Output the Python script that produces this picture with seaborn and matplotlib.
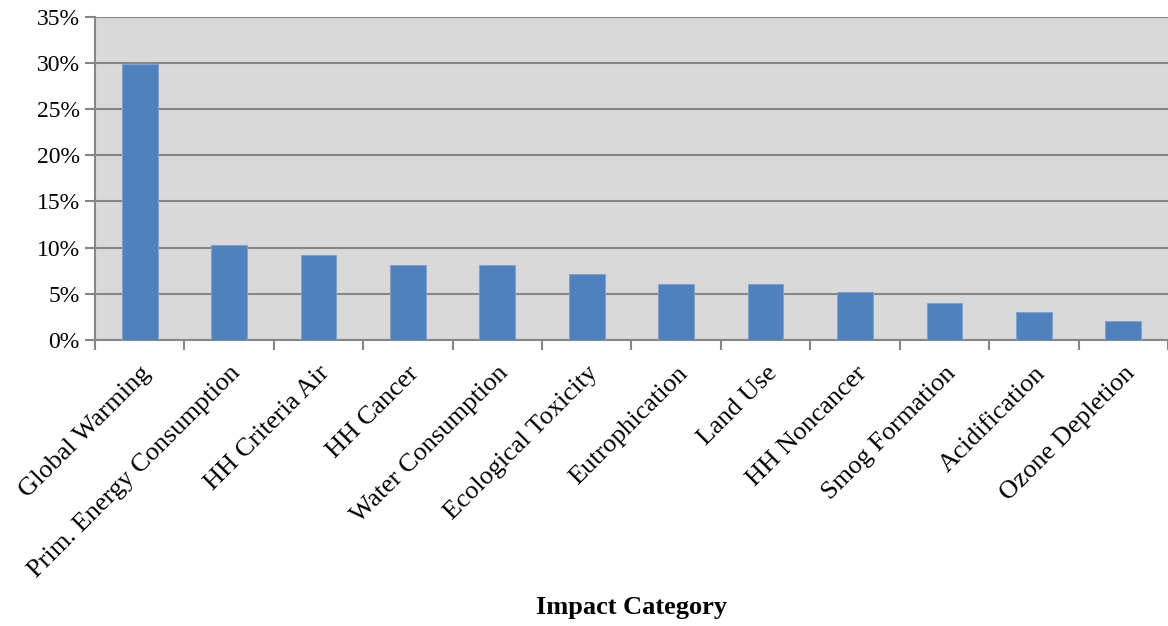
import pandas as pd
import numpy as np
import matplotlib
matplotlib.use("Agg")
import matplotlib.pyplot as plt
import seaborn as sns
from matplotlib.ticker import PercentFormatter, FixedLocator, NullFormatter

blue = '#4f81bd'
grid_grey = '#868686'

categories = ['Global Warming', 'Prim. Energy Consumption', 'HH Criteria Air', 'HH Cancer',
              'Water Consumption', 'Ecological Toxicity', 'Eutrophication', 'Land Use',
              'HH Noncancer', 'Smog Formation', 'Acidification', 'Ozone Depletion']
shares = [29.9, 10.3, 9.2, 8.1, 8.1, 7.1, 6.1, 6.1, 5.2, 4.0, 3.0, 2.0]

df = pd.DataFrame({'category': categories, 'share': shares})

sns.set_style('white')
plt.rcParams['font.family'] = ['Liberation Serif', 'DejaVu Serif']
plt.rcParams['text.color'] = 'black'
plt.rcParams['xtick.labelcolor'] = 'black'
plt.rcParams['ytick.labelcolor'] = 'black'

fig = plt.figure(figsize=(11.68, 6.26), dpi=100)
ax = fig.add_axes([0.0813, 0.457, 0.9187, 0.516])
ax.set_facecolor('#d9d9d9')

sns.barplot(data=df, x='category', y='share', color=blue, width=0.4,
            edgecolor='#7fa3cf', linewidth=0.8, saturation=1, ax=ax, zorder=3)

ax.set_xlim(-0.5, len(categories) - 0.5)
ax.set_ylim(0, 35)
ax.set_yticks(np.arange(0, 36, 5))
ax.yaxis.set_major_formatter(PercentFormatter(decimals=0))
ax.yaxis.grid(True, color=grid_grey, linewidth=1.5, zorder=0)
ax.set_axisbelow(True)

# category separators as minor ticks, labels on major
ax.xaxis.set_minor_locator(FixedLocator(np.arange(-0.5, len(categories), 1)))
ax.xaxis.set_minor_formatter(NullFormatter())
ax.tick_params(axis='x', which='major', length=0, pad=16)
ax.tick_params(axis='x', which='minor', length=7, width=1.5, color=grid_grey, bottom=True)
ax.tick_params(axis='y', length=7, width=1.5, color=grid_grey, left=True, labelsize=17, pad=4)
plt.setp(ax.get_xticklabels(), rotation=45, ha='right', va='top', rotation_mode='anchor', fontsize=19)

for s in ['top', 'right']:
    ax.spines[s].set_visible(False)
for s in ['left', 'bottom']:
    ax.spines[s].set_color(grid_grey)
    ax.spines[s].set_linewidth(1.5)

ax.set_ylabel('')
ax.set_xlabel('')
fig.text(0.541, 0.03, 'Impact Category', ha='center', va='center', fontsize=19, fontweight='bold')

fig.savefig('out.png', dpi=100)
